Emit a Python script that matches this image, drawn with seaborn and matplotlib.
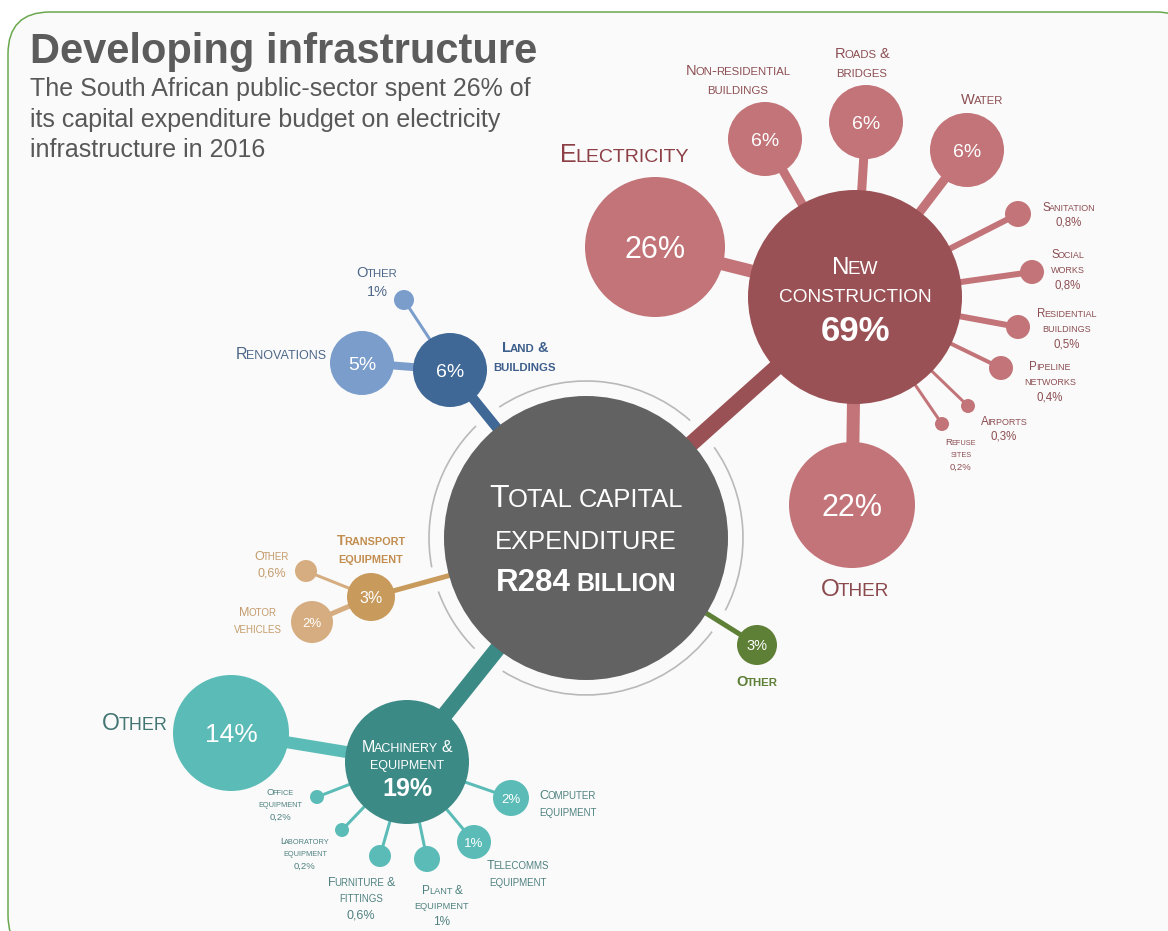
import matplotlib
matplotlib.use("Agg")
import numpy as np
import pandas as pd
import matplotlib.pyplot as plt
from matplotlib.patches import FancyBboxPatch, Arc
import seaborn as sns

# ---------------- data (shares of total capital expenditure, %) ----------------
TOTAL_BILLION = 284

top_groups = ["New\nconstruction", "Machinery &\nequipment", "Land &\nbuildings",
              "Transport\nequipment", "Other"]
top_share = [69, 19, 6, 3, 3]

nc_items = ["Electricity", "Other", "Non-residential\nbuildings", "Roads &\nbridges", "Water",
            "Sanitation", "Social\nworks", "Residential\nbuildings", "Pipeline\nnetworks",
            "Airports", "Refuse\nsites"]
nc_share = [26, 22, 6, 6, 6, 0.8, 0.8, 0.5, 0.4, 0.3, 0.2]

me_items = ["Other", "Computer\nequipment", "Telecomms\nequipment", "Plant &\nequipment",
            "Furniture &\nfittings", "Laboratory\nequipment", "Office\nequipment"]
me_share = [14, 2, 1, 1, 0.6, 0.2, 0.2]

lb_items = ["Renovations", "Other"]
lb_share = [5, 1]

te_items = ["Motor\nvehicles", "Other"]
te_share = [2, 0.6]

# ---------------- styling ----------------
sns.set_theme(style="white")
FONT = "Liberation Sans"
plt.rcParams["font.family"] = [FONT, "DejaVu Sans"]
PX = 100 / 72  # pixels per point at 100 dpi

GRAY = "#626262"
RING = "#b9b9b9"
RED_D, RED_L, RED_T = "#9a5155", "#c27478", "#8d4f53"
TEAL_D, TEAL_L, TEAL_T = "#3c8a86", "#5bbcb7", "#4f8280"
BLUE_D, BLUE_L, BLUE_T = "#3f6897", "#7b9dcb", "#4f6889"
TAN_D, TAN_L, TAN_T = "#c89a5c", "#d6ad80", "#c49c6d"
GREEN = "#5e7f36"

fig = plt.figure(figsize=(11.68, 9.31), dpi=100)
fig.patch.set_facecolor("white")
ax = fig.add_axes([0, 0, 1, 1])
ax.set_xlim(0, 1168)
ax.set_ylim(931, 0)
ax.axis("off")
renderer = fig.canvas.get_renderer()

# panel background
ax.add_patch(FancyBboxPatch((8, 12), 1190, 945, boxstyle="round,pad=0,rounding_size=42",
                            facecolor="#fafafa", edgecolor="#6aa84f", lw=1.1, zorder=0))

_cache = {}


def measure(s, size, weight):
    key = (s, round(size, 3), weight)
    if key not in _cache:
        t = ax.text(0, 0, s, fontsize=size, fontweight=weight)
        _cache[key] = t.get_window_extent(renderer).width
        t.remove()
    return _cache[key]


def smallcaps_line(x, base, text, size, color, weight="normal", ha="center", ratio=0.78, z=6):
    """Draw one line in small caps: lowercase letters become reduced capitals."""
    big = size * PX
    small = big * ratio
    tokens = []
    for ch in text:
        cls = "sp" if ch == " " else ("s" if ch.islower() else "b")
        if tokens and tokens[-1][1] == cls:
            tokens[-1][0] += ch
        else:
            tokens.append([ch, cls])
    placed, cursor, prev_px, pend = [], 0.0, None, 0.0
    for s, cls in tokens:
        if cls == "sp":
            pend += len(s) * 0.30 * small
            continue
        px = small if cls == "s" else big
        txt = s.upper()
        w = measure(txt, px / PX, weight)
        if prev_px is not None:
            cursor += pend - 0.01 * (prev_px + px) - 0.7
        pend = 0.0
        placed.append((cursor, txt, px))
        cursor += w
        prev_px = px
    start = {"center": x - cursor / 2, "left": x, "right": x - cursor}[ha]
    for off, txt, px in placed:
        ax.text(start + off, base, txt, fontsize=px / PX, fontweight=weight, color=color,
                ha="left", va="baseline", zorder=z)


def label_block(x, y, lines, size, color, weight="normal", ha="center", spacing=1.3, ratio=0.78):
    px = size * PX
    lh = px * spacing
    n = len(lines)
    cap = 0.716 * px
    for i, line in enumerate(lines):
        base = y - n * lh / 2 + (i + 0.5) * lh + cap / 2
        smallcaps_line(x, base, line, size, color, weight, ha, ratio)


def centered_text(x, y, s, size, color, weight="normal"):
    cap = 0.716 * size * PX
    ax.text(x, y + cap / 2, s, fontsize=size, fontweight=weight, color=color,
            ha="center", va="baseline", zorder=6)


def pct(v):
    return f"{v:g}".replace(".", ",") + "%"


# ---------------- layout (pixel positions, radii, connector widths) ----------------
TOTAL_XY, TOTAL_R = (586, 538), 142
# x, y, r, connector px, colour
top_layout = [
    (855, 297, 107, 16, RED_D),
    (407, 762, 62, 16, TEAL_D),
    (450, 370, 37, 10, BLUE_D),
    (371, 597, 24, 5, TAN_D),
    (757, 645, 20, 5, GREEN),
]
# x, y, r, connector px, inner pt (None = value in label), label x, y, label pt
nc_layout = [
    (655, 247, 70, 13, 22, 624, 153, 18),
    (852, 505, 63, 13, 22, 855, 587, 17.5),
    (765, 139, 37, 9, 14, 738, 79, 10.5),
    (866, 122, 37, 9, 14, 862, 62, 10.5),
    (967, 150, 37, 9, 14, 982, 99, 10.5),
    (1018, 214, 13, 6, None, 1069, 214, 8.3),
    (1032, 272, 12, 6, None, 1068, 269, 8.3),
    (1018, 327, 12, 6, None, 1067, 328, 8.3),
    (1001, 368, 12, 4, None, 1050, 381, 8.3),
    (968, 406, 7, 3, None, 1004, 428, 8.3),
    (942, 424, 7, 3, None, 961, 454, 6.8),
]
me_layout = [
    (231, 733, 58, 12, 19, 135, 722, 16.5),
    (511, 798, 18, 3, 9.5, 568, 803, 9),
    (474, 842, 17, 3, 9.5, 518, 873, 9),
    (427, 859, 13, 3, None, 442, 905, 8.5),
    (380, 856, 11, 3, None, 361, 898, 9),
    (342, 830, 7, 3, None, 305, 853, 6.8),
    (317, 797, 7, 3, None, 280, 804, 6.8),
]
lb_layout = [
    (362, 363, 32, 8, 14, 281, 353, 11.5),
    (404, 300, 10, 3, None, 377, 281, 10.5),
]
te_layout = [
    (312, 622, 21, 5, 9.5, 258, 620, 9),
    (306, 571, 11, 3, None, 272, 564, 9),
]

# ---------------- bubbles table ----------------
rows = [dict(node="total", x=TOTAL_XY[0], y=TOTAL_XY[1], r=TOTAL_R, color=GRAY)]
connectors = []
for (gx, gy, gr, glw, gc), name in zip(top_layout, top_groups):
    rows.append(dict(node="top:" + name, x=gx, y=gy, r=gr, color=gc))
    connectors.append((TOTAL_XY, (gx, gy), glw, gc))

children = [
    (0, nc_items, nc_share, nc_layout, RED_L, RED_T),
    (1, me_items, me_share, me_layout, TEAL_L, TEAL_T),
    (2, lb_items, lb_share, lb_layout, BLUE_L, BLUE_T),
    (3, te_items, te_share, te_layout, TAN_L, TAN_T),
]
child_labels = []
for gi, items, shares, layout, col, tcol in children:
    px_, py_ = top_layout[gi][:2]
    for item, share, (cx, cy, cr, clw, inner, lx, ly, lsz) in zip(items, shares, layout):
        rows.append(dict(node=f"{gi}:{item}", x=cx, y=cy, r=cr, color=col))
        connectors.append(((px_, py_), (cx, cy), clw, col))
        child_labels.append((item, share, cx, cy, inner, lx, ly, lsz, tcol))

nodes = pd.DataFrame(rows)
nodes["area"] = (2 * nodes["r"] * 72 / 100) ** 2

# connectors
for (x0, y0), (x1, y1), lw, col in connectors:
    ax.plot([x0, x1], [y0, y1], color=col, lw=lw * 0.72, solid_capstyle="butt", zorder=1)

# broken ring around the total
ring_r = 157
gaps = []
for (gx, gy, gr, glw, gc) in top_layout:
    ang = np.degrees(np.arctan2(gy - TOTAL_XY[1], gx - TOTAL_XY[0])) % 360
    half = np.degrees((glw / 2 + 10) / ring_r)
    gaps.append((ang - half, ang + half))
gaps.sort()
for i, (a0, a1) in enumerate(gaps):
    nxt = gaps[(i + 1) % len(gaps)][0] + (360 if i == len(gaps) - 1 else 0)
    ax.add_patch(Arc(TOTAL_XY, 2 * ring_r, 2 * ring_r, theta1=a1, theta2=nxt,
                     color=RING, lw=1.2, zorder=1.5))

# bubbles
sns.scatterplot(data=nodes, x="x", y="y", hue="node",
                palette=dict(zip(nodes["node"], nodes["color"])),
                s=nodes["area"], linewidth=0, edgecolor="none", legend=False, ax=ax, zorder=3)
ax.set_xlim(0, 1168)
ax.set_ylim(931, 0)
ax.axis("off")

# ---------------- texts ----------------
ax.text(30, 63, "Developing infrastructure", fontsize=30, fontweight="bold", color="#5c5c5c",
        ha="left", va="baseline")
subtitle = ["The South African public-sector spent 26% of",
            "its capital expenditure budget on electricity",
            "infrastructure in 2016"]
for i, line in enumerate(subtitle):
    ax.text(30, 96 + i * 30.5, line, fontsize=18, color="#585858", ha="left", va="baseline")

# total
tx, ty = TOTAL_XY
smallcaps_line(tx, ty - 31, "Total capital", 23, "white", ratio=0.8)
smallcaps_line(tx, ty + 11, "expenditure", 23, "white", ratio=0.8)
smallcaps_line(tx, ty + 53, f"R{TOTAL_BILLION} billion", 22.5, "white", weight="bold", ratio=0.8)

# group hubs
ncx, ncy = top_layout[0][:2]
nc_lines = top_groups[0].split("\n")
smallcaps_line(ncx, ncy - 23, nc_lines[0], 17.5, "white")
smallcaps_line(ncx, ncy + 5, nc_lines[1], 17.5, "white")
centered_text(ncx, ncy + 32, pct(top_share[0]), 25, "white", "bold")

mex, mey = top_layout[1][:2]
me_lines = top_groups[1].split("\n")
smallcaps_line(mex, mey - 10, me_lines[0], 11.5, "white")
smallcaps_line(mex, mey + 7, me_lines[1], 11.5, "white")
centered_text(mex, mey + 25, pct(top_share[1]), 18, "white", "bold")

lbx, lby = top_layout[2][:2]
centered_text(lbx, lby, pct(top_share[2]), 14, "white")
label_block(525, 356, top_groups[2].split("\n"), 10.5, "#3e5f8c", weight="bold")

tex, tey = top_layout[3][:2]
centered_text(tex, tey, pct(top_share[3]), 11.5, "white")
label_block(371, 549, top_groups[3].split("\n"), 10, "#c28d4f", weight="bold")

gox, goy = top_layout[4][:2]
centered_text(gox, goy, pct(top_share[4]), 10.5, "white")
label_block(gox, 681, [top_groups[4]], 10.5, GREEN, weight="bold")

# child labels
big_label_colour = {"Electricity": "#8c3f45"}
for item, share, cx, cy, inner, lx, ly, lsz, tcol in child_labels:
    lines = item.split("\n")
    if inner is not None:
        centered_text(cx, cy, pct(share), inner, "white")
    else:
        lines = lines + [pct(share)]
    col = tcol
    if lsz >= 15:
        col = big_label_colour.get(item, {RED_T: "#8b4a4e", TEAL_T: "#437573"}.get(tcol, tcol))
    label_block(lx, ly, lines, lsz, col)

fig.savefig("out.png", dpi=100, facecolor="white")
